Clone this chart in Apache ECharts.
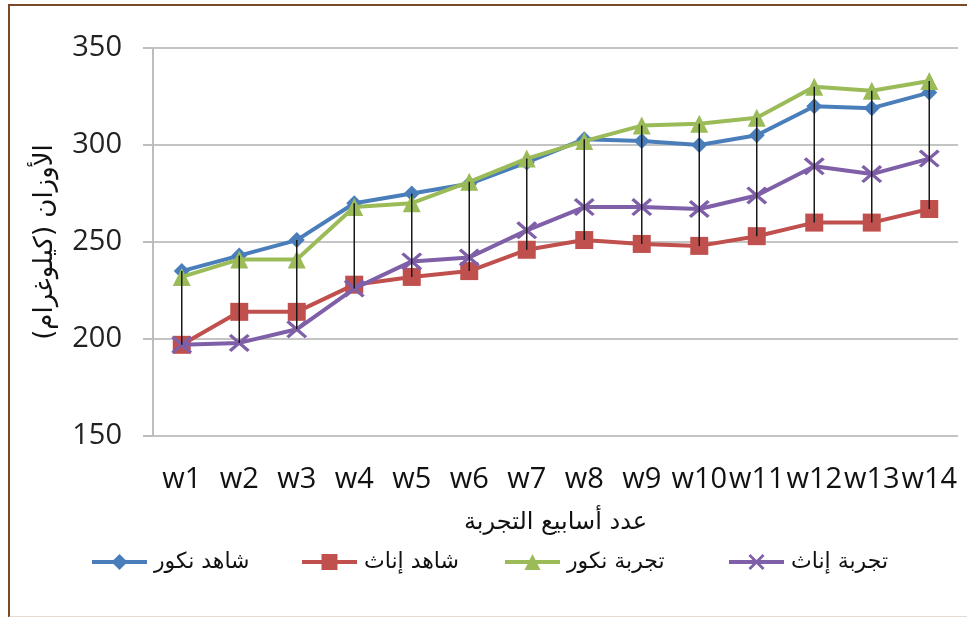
<!DOCTYPE html>
<html>
<head>
<meta charset="utf-8">
<script src="https://cdn.jsdelivr.net/npm/echarts@6/dist/echarts.min.js"></script>
<style>
  html, body { margin: 0; padding: 0; background: #fff; }
  #frame {
    position: absolute; left: 8px; top: 4px; width: 970px; height: 610px;
    border-top: 2px solid #7a4a28; border-left: 2px solid #7a4a28;
    border-bottom: 2px solid #e4dcd4;
  }
  #chart { position: absolute; left: 0; top: 0; width: 967px; height: 617px; }
</style>
</head>
<body>
<div id="frame"></div>
<div id="chart"></div>
<script>
// Weekly live weights (kg) for control and trial groups, males and females
const weeks = ['w1', 'w2', 'w3', 'w4', 'w5', 'w6', 'w7', 'w8', 'w9', 'w10', 'w11', 'w12', 'w13', 'w14'];
const controlMales   = [235, 243, 251, 270, 275, 280, 291, 303, 302, 300, 305, 320, 319, 327];
const controlFemales = [197, 214, 214, 228, 232, 235, 246, 251, 249, 248, 253, 260, 260, 267];
const trialMales     = [232, 241, 241, 268, 270, 281, 293, 302, 310, 311, 314, 330, 328, 333];
const trialFemales   = [197, 198, 205, 226, 240, 242, 256, 268, 268, 267, 274, 289, 285, 293];
const yTicks = [150, 200, 250, 300, 350];

const names = ['شاهد نكور', 'شاهد إناث', 'تجربة نكور', 'تجربة إناث'];
const colors = ['#4a7ebb', '#c0504d', '#9bbb59', '#7f5fa8'];
const xMark = 'path://M0,1.2L1.2,0L10,8.8L8.8,10Z M8.8,0L10,1.2L1.2,10L0,8.8Z';

// high-low range per week across all four groups
const allSeries = [controlMales, controlFemales, trialMales, trialFemales];
const ranges = weeks.map((w, i) => {
  const vals = allSeries.map(s => s[i]);
  return [i, Math.min(...vals), Math.max(...vals)];
});

const arabicFont = '"DejaVu Sans", "Noto Sans", sans-serif';
const latinFont = '"Open Sans", "Liberation Sans", sans-serif';

function lineSeries(idx, data, symbol, size) {
  return {
    name: names[idx],
    type: 'line',
    data: data,
    symbol: symbol,
    symbolSize: size,
    lineStyle: { color: colors[idx], width: 4 },
    itemStyle: { color: colors[idx] },
    z: 3 + idx
  };
}

const legendLefts = [90, 300, 503, 727];

const chart = echarts.init(document.getElementById('chart'), null, { renderer: 'canvas' });
chart.setOption({
  animation: false,
  backgroundColor: 'transparent',
  grid: { left: 153, right: 9, top: 48, bottom: 181 },
  legend: names.map((n, i) => ({
    data: [n],
    left: legendLefts[i],
    top: 551,
    padding: 0,
    itemWidth: 55,
    itemHeight: 20,
    itemGap: 0,
    lineStyle: { width: 4 },
    textStyle: { fontFamily: arabicFont, fontSize: 22, color: '#111', padding: [0, 0, 0, 2] }
  })),
  xAxis: {
    type: 'category',
    data: weeks,
    boundaryGap: true,
    name: 'عدد أسابيع التجربة',
    nameLocation: 'middle',
    nameGap: 75,
    nameTextStyle: { fontFamily: arabicFont, fontSize: 24, color: '#111' },
    axisLine: { show: false },
    axisTick: { show: false },
    axisLabel: { interval: 0, margin: 29, fontFamily: latinFont, fontSize: 29, color: '#111' }
  },
  yAxis: {
    type: 'value',
    min: yTicks[0],
    max: yTicks[yTicks.length - 1],
    interval: 50,
    name: 'الأوزان (كيلوغرام)',
    nameLocation: 'middle',
    nameGap: 95,
    nameTextStyle: { fontFamily: arabicFont, fontSize: 26, color: '#111' },
    axisLine: { show: true, lineStyle: { color: '#bdbdbd', width: 2 } },
    axisTick: { show: true, inside: false, length: 10, lineStyle: { color: '#bdbdbd', width: 2 } },
    splitLine: { lineStyle: { color: '#c4c4c4', width: 2 } },
    axisLabel: { margin: 31, fontFamily: latinFont, fontSize: 29, color: '#222' }
  },
  series: [
    lineSeries(0, controlMales, 'diamond', 16),
    lineSeries(1, controlFemales, 'rect', 18),
    lineSeries(2, trialMales, 'triangle', 18),
    lineSeries(3, trialFemales, xMark, [21, 18]),
    {
      type: 'custom',
      name: 'range',
      data: ranges,
      z: 10,
      silent: true,
      renderItem: function (params, api) {
        const top = api.coord([api.value(0), api.value(2)]);
        const bottom = api.coord([api.value(0), api.value(1)]);
        return {
          type: 'line',
          shape: { x1: top[0], y1: top[1], x2: bottom[0], y2: bottom[1] },
          style: { stroke: '#1a1a1a', lineWidth: 1.5 }
        };
      }
    }
  ]
});
</script>
</body>
</html>
